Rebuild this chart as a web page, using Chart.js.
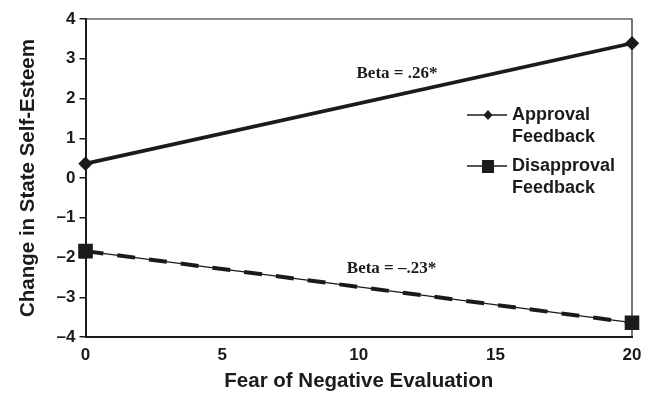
<!DOCTYPE html>
<html lang="en">
<head>
    <meta charset="UTF-8">
    <title>Change in State Self-Esteem</title>
    <script src="https://cdn.jsdelivr.net/npm/chart.js"></script>
    <style>
        body { margin: 0; background: #fff; }
        #wrap { width: 652px; height: 395px; }
    </style>
</head>
<body>
    <div id="wrap"><canvas id="fneChart"></canvas></div>

    <script>
        // data
        const fearScores = [0, 20];
        const approvalValues = [0.36, 3.39];
        const disapprovalValues = [-1.84, -3.64];
        const seriesNames = [['Approval', 'Feedback'], ['Disapproval', 'Feedback']];
        const betaLabels = ['Beta = .26*', 'Beta = \u2013.23*'];
        const xTicks = [0, 5, 10, 15, 20];
        const yTicks = [-4, -3, -2, -1, 0, 1, 2, 3, 4];

        const ink = '#1b1b1b';
        const sans = "'Liberation Sans', Arial, sans-serif";

        // box round the plot, the beta notes and the legend
        const extras = {
            id: 'extras',
            afterDraw(chart) {
                const ctx = chart.ctx;
                const a = chart.chartArea;
                const xs = chart.scales.x, ys = chart.scales.y;
                ctx.save();
                ctx.strokeStyle = ink;
                ctx.lineWidth = 1.2;
                ctx.beginPath();
                ctx.moveTo(a.left, a.top);
                ctx.lineTo(a.right, a.top);
                ctx.lineTo(a.right, a.bottom);
                ctx.stroke();

                ctx.fillStyle = ink;
                ctx.font = "bold 17px 'Liberation Serif', 'Times New Roman', serif";
                ctx.textAlign = 'center';
                ctx.textBaseline = 'middle';
                ctx.fillText(betaLabels[0], xs.getPixelForValue(11.4), ys.getPixelForValue(2.62));
                ctx.fillText(betaLabels[1], xs.getPixelForValue(11.2), ys.getPixelForValue(-2.29));

                // legend
                const lx = 488, rows = [115, 166];
                ctx.font = 'bold 18px ' + sans;
                ctx.textAlign = 'left';
                rows.forEach((y, i) => {
                    ctx.lineWidth = 1.3;
                    ctx.beginPath();
                    ctx.moveTo(lx - 21, y);
                    ctx.lineTo(lx + 19, y);
                    ctx.stroke();
                    if (i === 0) {
                        ctx.beginPath();
                        ctx.moveTo(lx, y - 5);
                        ctx.lineTo(lx + 4.5, y);
                        ctx.lineTo(lx, y + 5);
                        ctx.lineTo(lx - 4.5, y);
                        ctx.closePath();
                        ctx.fill();
                    } else {
                        ctx.fillRect(lx - 6, y - 6, 12, 13);
                    }
                    ctx.fillText(seriesNames[i][0], lx + 24, y);
                    ctx.fillText(seriesNames[i][1], lx + 24, y + 22);
                });
                ctx.restore();
            }
        };

        const toPoints = vals => fearScores.map((x, i) => ({ x: x, y: vals[i] }));
        const dash = s => String(s).replace('-', '\u2013');

        new Chart(document.getElementById('fneChart'), {
            type: 'line',
            data: {
                datasets: [
                    {
                        label: 'Approval Feedback',
                        data: toPoints(approvalValues),
                        borderColor: ink,
                        backgroundColor: ink,
                        borderWidth: 3.8,
                        pointStyle: 'rectRot',
                        pointRadius: 4.5,
                        pointHoverRadius: 4.5
                    },
                    {
                        label: 'Disapproval Feedback',
                        data: toPoints(disapprovalValues),
                        borderColor: ink,
                        backgroundColor: ink,
                        borderWidth: 1.2,
                        pointRadius: 0
                    },
                    {
                        label: 'Disapproval Feedback (dashes)',
                        data: toPoints(disapprovalValues),
                        borderColor: ink,
                        backgroundColor: ink,
                        borderWidth: 4,
                        borderDash: [18, 14],
                        pointStyle: 'rect',
                        pointRadius: 7.5,
                        pointHoverRadius: 7.5
                    }
                ]
            },
            options: {
                responsive: true,
                maintainAspectRatio: false,
                animation: false,
                clip: false,
                layout: { padding: { top: 19, right: 20, left: 16, bottom: 0 } },
                plugins: {
                    legend: { display: false },
                    tooltip: { enabled: false }
                },
                scales: {
                    x: {
                        type: 'linear',
                        min: 0,
                        max: 20,
                        afterBuildTicks: axis => { axis.ticks = xTicks.map(v => ({ value: v })); },
                        afterFit: axis => { axis.height = 58; },
                        grid: { display: false },
                        border: { display: true, color: ink, width: 2 },
                        ticks: { color: ink, padding: 0, font: { family: sans, size: 17, weight: 'bold' } },
                        title: {
                            display: true,
                            text: 'Fear of Negative Evaluation',
                            color: ink,
                            padding: { top: 0, bottom: 3 },
                            font: { family: sans, size: 20.5, weight: 'bold', lineHeight: 1 }
                        }
                    },
                    y: {
                        min: -4,
                        max: 4,
                        afterBuildTicks: axis => { axis.ticks = yTicks.map(v => ({ value: v })); },
                        grid: { drawOnChartArea: false, drawTicks: true, tickLength: 6, color: ink, lineWidth: 1.5 },
                        border: { display: true, color: ink, width: 2 },
                        ticks: {
                            color: ink,
                            padding: 4,
                            font: { family: sans, size: 17, weight: 'bold' },
                            callback: v => dash(v)
                        },
                        title: {
                            display: true,
                            text: 'Change in State Self-Esteem',
                            color: ink,
                            padding: { top: 0, bottom: 12 },
                            font: { family: sans, size: 20.5, weight: 'bold' }
                        }
                    }
                }
            },
            plugins: [extras]
        });
    </script>
</body>
</html>
